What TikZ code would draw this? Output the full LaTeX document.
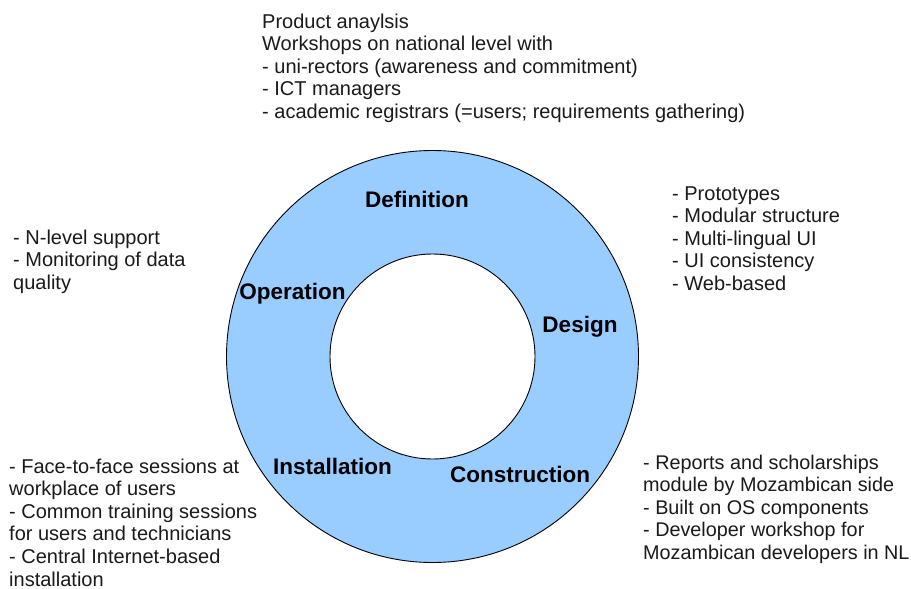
\documentclass[tikz,border=0pt]{standalone}
\usepackage{fontspec}
\setmainfont{Liberation Sans}
\definecolor{ringblue}{HTML}{99CCFF}
\definecolor{txt}{HTML}{1A1A1A}
\begin{document}
\begin{tikzpicture}[x=1pt,y=-1pt,
  note/.style={anchor=base west,inner sep=0pt,align=left,text=txt,
    font=\fontsize{20}{22.6}\selectfont},
  phase/.style={anchor=base,inner sep=0pt,text=black,
    font=\fontsize{22.5}{26}\selectfont\bfseries}]
\useasboundingbox (0,0) rectangle (911,589);
\path[fill=ringblue,draw=black,line width=0.9pt,even odd rule]
  (432.5,356.5) circle[radius=206] (432.5,356.5) circle[radius=102.5];
\node[phase] (def) at (417,207) {Definition};
\node[phase] (op) at (292.5,299) {Operation};
\node[phase] (des) at (580,332) {Design};
\node[phase] (inst) at (332.5,474) {Installation};
\node[phase] (cons) at (520,482) {Construction};
% base anchor = baseline of the last line
\node[note] (ntop) at (262,118.4) {Product anaylsis\\Workshops on national level with\\- uni-rectors (awareness and commitment)\\- ICT managers\\- academic registrars (=users; requirements gathering)};
\node[note] (nop) at (13,289.2) {- N-level support\\- Monitoring of data\\quality};
\node[note] (ndes) at (672,290.4) {- Prototypes\\- Modular structure\\- Multi-lingual UI\\- UI consistency\\- Web-based};
\node[note] (ninst) at (9,586) {- Face-to-face sessions at\\workplace of users\\- Common training sessions\\for users and technicians\\- Central Internet-based\\installation};
\node[note,font=\fontsize{19.8}{22.6}\selectfont] (ncons) at (643,559.4) {- Reports and scholarships\\module by Mozambican side\\- Built on OS components\\- Developer workshop for\\Mozambican developers in NL};
\end{tikzpicture}
\end{document}
